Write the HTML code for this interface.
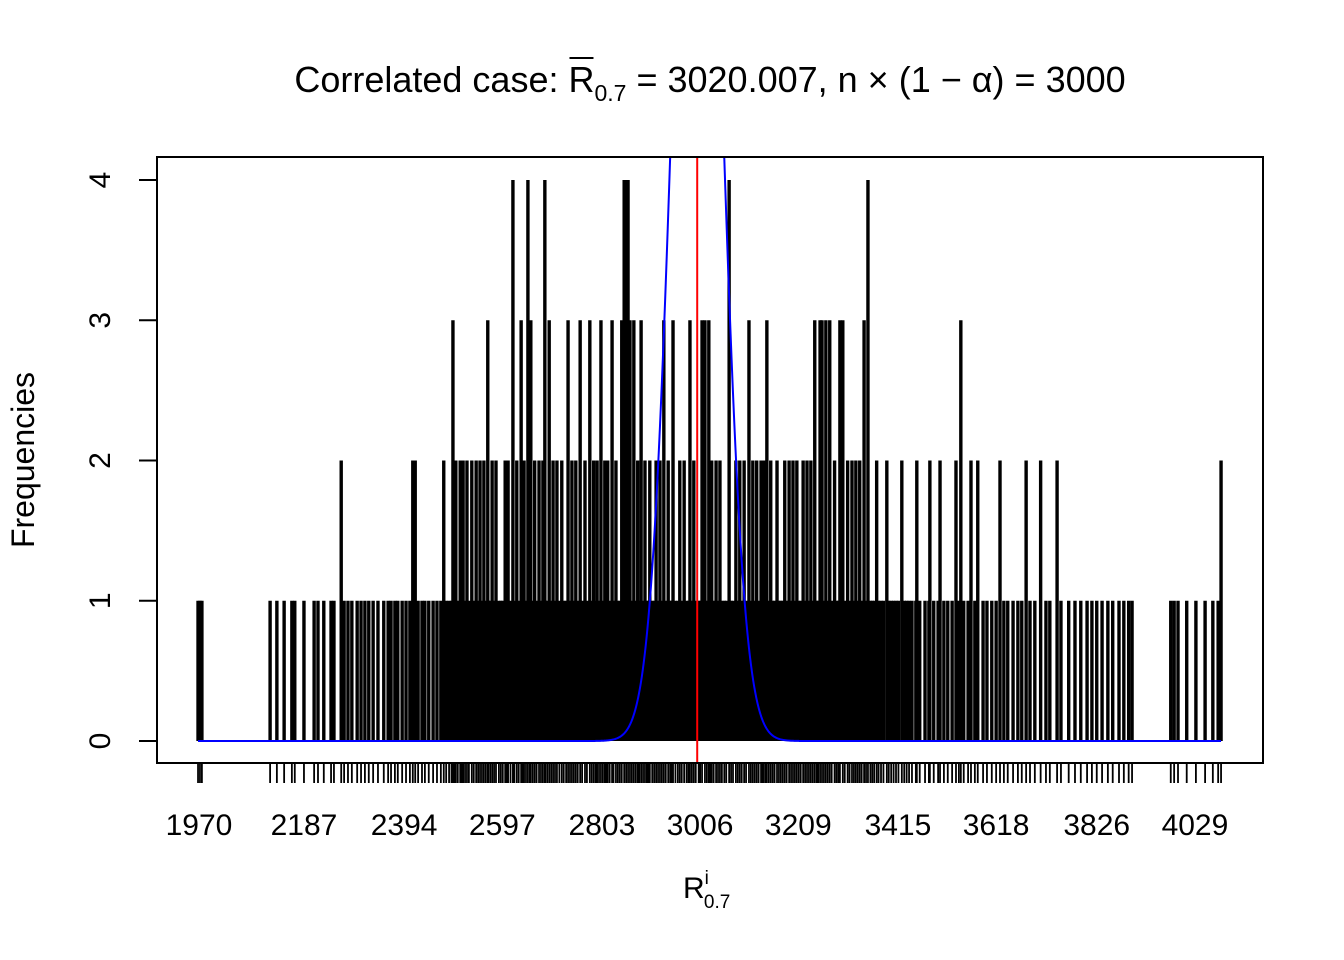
<!DOCTYPE html>
<html><head><meta charset="utf-8">
<style>
html,body{margin:0;padding:0;background:#fff;}
svg{display:block;font-family:"Liberation Sans",Arial,sans-serif;}
</style></head>
<body>
<svg id="chart" width="1344" height="960" viewBox="0 0 1344 960" xmlns="http://www.w3.org/2000/svg">
<rect width="1344" height="960" fill="#fff"/>
<text id="title" x="710" y="92" font-size="36" text-anchor="middle" fill="#000">Correlated case: <tspan id="rbar">R</tspan><tspan font-size="23" dy="9">0.7</tspan><tspan dy="-9"> = 3020.007, n × (1 − α) = 3000</tspan></text>
<line id="overbar" x1="569" y1="58" x2="595" y2="58" stroke="#000" stroke-width="2"/>
<text x="683" y="898" font-size="30" fill="#000">R<tspan font-size="19" dy="-14">i</tspan><tspan font-size="19" dx="-5" dy="24">0.7</tspan></text>
<text transform="translate(34,460) rotate(-90)" font-size="32" text-anchor="middle" fill="#000">Frequencies</text>
<g id="marks"></g>
<rect x="157" y="157" width="1106" height="606" fill="none" stroke="#000" stroke-width="2"/>
</svg>
<script>
const count4 = [2619,2650,2685,2849,2853,2857,3066,3353];
const count3 = [2495,2567,2636,2656,2694,2733,2758,2778,2801,2824,2844,2861,2869,2884,2931,2950,2985,3010,3016,3024,3107,3144,3243,3254,3258,3266,3274,3295,3301,3345,3545];
const count2 = [2264,2412,2417,2476,2501,2510,2516,2524,2534,2543,2551,2559,2576,2584,2603,2609,2627,2642,2664,2673,2681,2702,2710,2720,2741,2749,2768,2786,2793,2809,2815,2832,2877,2892,2902,2915,2923,2940,2964,2973,2993,3030,3039,3047,3080,3088,3097,3115,3123,3132,3138,3152,3165,3181,3190,3198,3206,3219,3227,3235,3284,3311,3320,3328,3336,3371,3392,3423,3454,3481,3502,3535,3566,3580,3626,3680,3710,3744,4083];
const count1 = [1968,1972,1976,2117,2131,2146,2162,2168,2187,2208,2216,2228,2243,2249,2270,2278,2286,2297,2305,2313,2321,2330,2340,2352,2361,2367,2375,2381,2390,2398,2406,2423,2431,2437,2445,2454,2462,2470,
2481,2487,2492,2498,2505,2513,2520,2528,2538,2547,2555,2563,2568,2572,2580,2590,2594,2598,2606,2614,2622,2631,2639,2646,2654,2660,2668,2677,2686,2690,2698,2706,2715,2724,2729,2737,2745,2753,2762,2772,2782,2790,2797,2805,2812,2819,2827,2836,2840,2865,2873,2880,2888,2896,2899,2907,2911,2919,2927,2935,2944,2947,2955,2960,2968,2978,2982,2989,2997,3003,3006,3020,3027,3034,3043,3051,3056,3060,3070,3074,3084,3092,3101,3111,3119,3127,3135,3142,3148,3156,3160,3169,3173,3177,3185,3194,3202,3210,3214,3223,3231,3239,3247,3250,3262,3270,3278,3288,3292,3305,3315,3324,3332,3340,3349,3358,3362,3366,3375,3380,3385,3396,3401,3406,3411,3416,3428,3433,3438,
3444,3452,3460,3471,3479,3489,3498,3510,3518,3527,3541,3551,3560,3574,3591,3599,3609,3618,3634,3642,3653,3663,3671,3688,3698,3721,3729,3752,3768,3781,3793,3806,3816,3826,3837,3849,3859,3872,3882,3892,3899,3979,3986,3994,4012,4031,4050,4066,4077];
const xTickLabels = [1970,2187,2394,2597,2803,3006,3209,3415,3618,3826,4029];
const yTicks = [0,1,2,3,4];
const curveMean = [3000];
const curveSd = [47.6];
const curvePeak = [8.3];
const refLine = [3000];

const X0 = 199, XV0 = 1970, XS = 0.4837;
const Y0 = 741, YS = 140.25;
const sx = v => X0 + (v - XV0) * XS;
const sy = c => Y0 - c * YS;
const NS = "http://www.w3.org/2000/svg";
const g = document.getElementById('marks');
function mk(tag, attrs){const e=document.createElementNS(NS,tag);for(const k in attrs)e.setAttribute(k,attrs[k]);g.appendChild(e);return e;}

// overbar over R in title
try{
  const t = document.getElementById('title');
  const n = 'Correlated case: '.length;
  const s = t.getStartPositionOfChar(n), e = t.getEndPositionOfChar(n);
  const ob = document.getElementById('overbar');
  ob.setAttribute('x1', s.x+1); ob.setAttribute('x2', e.x-1);
}catch(err){}

const bars = [];
count1.forEach(v=>bars.push([v,1]));
count2.forEach(v=>bars.push([v,2]));
count3.forEach(v=>bars.push([v,3]));
count4.forEach(v=>bars.push([v,4]));
bars.forEach(([v,c])=>{
  const x = sx(v);
  const l = mk('line',{x1:x,x2:x,y1:sy(0),y2:sy(c),stroke:'#000','stroke-width':3.4,'stroke-linecap':'butt'});
  
  
  const t = mk('line',{x1:x,x2:x,y1:763,y2:783,stroke:'#000','stroke-width':1.8});
  
  
});
xTickLabels.forEach(v=>{
  const t = mk('text',{x:sx(v),y:835,'font-size':30,'text-anchor':'middle',fill:'#000'});
  t.textContent = v;
  
  
});
yTicks.forEach(v=>{
  const tk = mk('line',{x1:139,x2:157,y1:sy(v),y2:sy(v),stroke:'#000','stroke-width':2});
  
  
  const t = mk('text',{transform:`translate(110,${sy(v)}) rotate(-90)`,'font-size':30,'text-anchor':'middle',fill:'#000'});
  t.textContent = v;
  
  
});
const lo = Math.min(...bars.map(b=>b[0])), hi = Math.max(...bars.map(b=>b[0]));
let d = '';
for(let v=lo; v<=hi; v+=1){
  const h = curvePeak[0]*Math.exp(-Math.pow(v-curveMean[0],2)/(2*curveSd[0]*curveSd[0]));
  d += (d?'L':'M') + sx(v).toFixed(2) + ',' + Math.max(sy(h),157).toFixed(2);
}
const cl = mk('path',{d:d,fill:'none',stroke:'#0000ff','stroke-width':2});


const rl = mk('line',{x1:sx(refLine[0]),x2:sx(refLine[0]),y1:157,y2:763,stroke:'#ff0000','stroke-width':2});


</script>
</body></html>
